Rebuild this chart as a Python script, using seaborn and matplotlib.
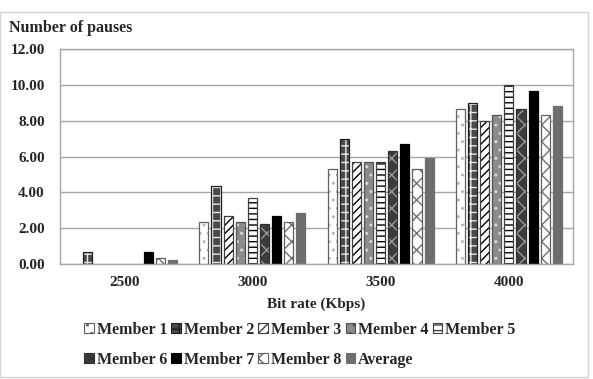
import matplotlib
matplotlib.use('Agg')
import matplotlib.pyplot as plt
from matplotlib.patches import Patch, Rectangle
import seaborn as sns
import pandas as pd

# Values
bitrates = ['2500', '3000', '3500', '4000']
members = ['Member 1', 'Member 2', 'Member 3', 'Member 4', 'Member 5',
           'Member 6', 'Member 7', 'Member 8', 'Average']
member1 = [0.00, 2.33, 5.33, 8.67]
member2 = [0.67, 4.33, 7.00, 9.00]
member3 = [0.00, 2.67, 5.67, 8.00]
member4 = [0.00, 2.33, 5.67, 8.33]
member5 = [0.00, 3.67, 5.67, 10.00]
member6 = [0.00, 2.25, 6.33, 8.67]
member7 = [0.67, 2.67, 6.67, 9.67]
member8 = [0.33, 2.33, 5.33, 8.33]
average = [0.21, 2.83, 5.92, 8.83]

series = [member1, member2, member3, member4, member5,
          member6, member7, member8, average]

rows = []
for name, vals in zip(members, series):
    for br, v in zip(bitrates, vals):
        rows.append({'bitrate': br, 'pauses': v, 'member': name})
df = pd.DataFrame(rows)

# (face, hatch, hatch colour, outline)
styles = [
    ('white', '..', '#b8b8b8', '#606060'),
    ('#4a4a4a', '++', '#e8e8e8', '#202020'),
    ('white', '////', 'black', '#404040'),
    ('#8c8c8c', '..', '#d8d8d8', '#505050'),
    ('white', '---', 'black', '#404040'),
    ('#3c3c3c', 'xx', '#9a9a9a', '#303030'),
    ('black', '', 'black', 'black'),
    ('white', 'xx', '#707070', '#606060'),
    ('#6e6e6e', '', '#6e6e6e', '#6e6e6e'),
]

sns.set_style('white')
plt.rcParams['font.family'] = ['Liberation Serif', 'DejaVu Serif']
plt.rcParams['font.weight'] = 'bold'
plt.rcParams['hatch.linewidth'] = 1.0

fig = plt.figure(figsize=(5.93, 3.79), dpi=100)
ax = fig.add_axes([60 / 593, 1 - 264 / 379, 513 / 593, 215 / 379])

sns.barplot(data=df, x='bitrate', y='pauses', hue='member', hue_order=members,
            order=bitrates, width=0.85, gap=0.25, legend=False, ax=ax,
            errorbar=None, saturation=1)

for cont, (fc, hatch, hc, oc) in zip(ax.containers, styles):
    for p in cont:
        p.set_facecolor(fc)
        p.set_hatch(hatch)
        p.set_edgecolor(hc)
        p.set_linewidth(0)
        if p.get_height() > 0:
            ax.add_patch(Rectangle(p.get_xy(), p.get_width(), p.get_height(),
                                   fill=False, edgecolor=oc, lw=0.9, zorder=p.get_zorder() + 0.1))

ax.set_ylim(0, 12)
ax.set_yticks([0, 2, 4, 6, 8, 10, 12])
ax.set_yticklabels([f'{v:.2f}' for v in [0, 2, 4, 6, 8, 10, 12]])
ax.grid(axis='y', color='#a6a6a6', lw=1)
ax.set_axisbelow(True)
for s in ax.spines.values():
    s.set_color('#a6a6a6')
    s.set_linewidth(1)
ax.tick_params(axis='both', length=0, labelsize=11)
ax.tick_params(axis='y', pad=11)
ax.tick_params(axis='x', pad=9)
ax.set_ylabel('')
ax.set_xlabel('Bit rate (Kbps)', fontsize=11, fontweight='bold', labelpad=6)
for t in ax.get_xticklabels() + ax.get_yticklabels():
    t.set_fontweight('bold')

fig.text(9 / 593, 1 - 28 / 379, 'Number of pauses', ha='left', va='center',
         fontsize=11.5, fontweight='bold')

# legend is filled column by column, so reorder to read row by row
order = [0, 5, 1, 6, 2, 7, 3, 8, 4]
handles = []
for fc, hatch, hc, oc in styles:
    handles.append(Patch(facecolor=fc, hatch=hatch, edgecolor=oc, lw=0.8))
fig.legend([handles[i] for i in order], [members[i] for i in order],
           ncol=5, loc='upper left',
           bbox_to_anchor=(84 / 593, 1 - 322 / 379), frameon=False, fontsize=11.5,
           handlelength=0.6, handleheight=0.6, handletextpad=0.2,
           columnspacing=0.25, labelspacing=0.85, borderaxespad=0, borderpad=0)

fig.patches.append(Rectangle((0.0, 1 - 377 / 379), 588 / 593, 365 / 379,
                             transform=fig.transFigure, fill=False,
                             edgecolor='#d4d4d4', lw=1))

fig.savefig('out.png', dpi=100)
